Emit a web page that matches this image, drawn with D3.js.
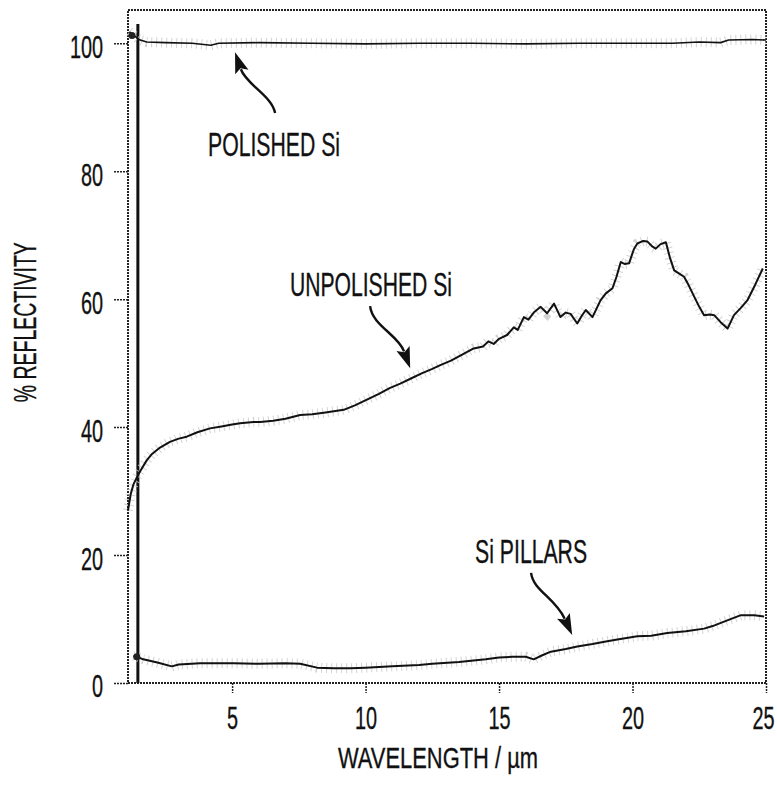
<!DOCTYPE html>
<html>
<head>
<meta charset="utf-8">
<script src="https://cdn.jsdelivr.net/npm/d3@7"></script>
<style>
  html, body { margin: 0; padding: 0; background: #fff; }
  svg { display: block; }
  text { font-family: "Liberation Sans Narrow", "Liberation Sans", Arial, sans-serif; fill: #111; stroke: #111; stroke-width: 0.35; }
</style>
</head>
<body>
<svg id="chart" width="777" height="789"></svg>
<script>
// wavelength (µm) / % reflectivity
const polishedWl = [1.15, 1.3, 1.5, 1.8, 2.5, 3.5, 4.2, 4.5, 6, 8, 10, 12, 14, 16, 18, 20, 21.5, 22.5, 23.3, 23.6, 24.5, 25];
const polishedR  = [101.8, 101.3, 100.6, 100.2, 100.1, 100.0, 99.7, 100.0, 100.1, 100.0, 99.9, 100.0, 100.0, 99.9, 100.0, 100.0, 100.0, 100.2, 100.1, 100.5, 100.6, 100.5];

const unpolishedWl = [1.1, 1.2, 1.3, 1.45, 1.6, 1.8, 2.0, 2.3, 2.67, 3.0, 3.3, 3.7, 4.17, 4.6, 5.0, 5.3, 5.8, 6.05, 6.54, 7.0,
  7.55, 8.0, 8.5, 9.18, 9.6, 10.05, 10.5, 10.9, 11.3, 11.7, 12.1, 12.5, 12.8, 13.2, 13.6, 14.05, 14.4, 14.6, 14.8, 15.0,
  15.3, 15.55, 15.7, 15.93, 16.1, 16.3, 16.56, 16.8, 17.06, 17.3, 17.5, 17.68, 17.93, 18.1, 18.25, 18.5, 18.8, 19.0, 19.25, 19.4,
  19.56, 19.7, 19.87, 20.05, 20.18, 20.4, 20.56, 20.75, 20.87, 21.05, 21.25, 21.4, 21.56, 21.75, 21.93, 22.1, 22.31, 22.5, 22.68, 22.9,
  23.06, 23.3, 23.56, 23.8, 24.05, 24.3, 24.6, 24.88];
const unpolishedR = [27.0, 29.5, 31.0, 32.3, 33.4, 34.8, 35.8, 36.8, 37.7, 38.2, 38.5, 39.2, 39.8, 40.1, 40.4, 40.6, 40.8, 40.8, 41.0, 41.3,
  41.9, 42.0, 42.3, 42.7, 43.4, 44.3, 45.2, 46.1, 46.8, 47.6, 48.4, 49.1, 49.7, 50.4, 51.3, 52.3, 52.6, 53.4, 53.0, 53.8,
  54.4, 55.6, 55.2, 57.2, 56.8, 57.9, 58.8, 57.8, 59.3, 57.2, 57.9, 57.7, 56.2, 57.4, 58.3, 57.2, 59.8, 60.9, 61.7, 63.5,
  65.8, 65.5, 65.6, 67.8, 68.7, 69.1, 69.0, 68.2, 67.9, 68.6, 68.9, 66.5, 64.5, 64.0, 63.5, 62.2, 60.4, 58.8, 57.5, 57.6,
  57.5, 56.4, 55.4, 57.5, 58.6, 59.8, 62.3, 64.8];

const pillarsWl = [1.3, 1.43, 1.67, 2.2, 2.74, 3.0, 3.8, 5.05, 6.0, 7.0, 7.55, 8.18, 8.8, 9.43, 10.0, 11.0, 12.0, 12.5, 13.5, 14.5,
  15.0, 15.5, 16.0, 16.3, 16.6, 16.94, 17.5, 17.93, 18.5, 19.0, 19.43, 20.18, 20.7, 21.3, 22.0, 22.68, 23.0, 23.43, 24.06, 24.56, 24.93];
const pillarsR = [4.2, 4.1, 3.7, 3.2, 2.6, 2.9, 3.1, 3.1, 3.0, 3.1, 3.0, 2.4, 2.3, 2.3, 2.4, 2.6, 2.8, 3.0, 3.3, 3.7,
  4.0, 4.1, 4.1, 3.7, 4.3, 4.9, 5.3, 5.7, 6.1, 6.5, 6.8, 7.3, 7.4, 7.8, 8.1, 8.5, 8.9, 9.6, 10.6, 10.6, 10.4];

const xTicks = [5, 10, 15, 20, 25];
const yTicks = [0, 20, 40, 60, 80, 100];
const markerWl = 1.47;   // solid vertical line near the left edge

// labels: [text, x, y] and arrows: tail, ctrl1, ctrl2, tip (data units)
const labels = [
  ["POLISHED Si", 6.57, 84.3],
  ["UNPOLISHED Si", 10.2, 62.4],
  ["Si PILLARS", 16.2, 20.6]
];
const arrows = [
  [[6.61, 89.1], [6.50, 91.75], [5.52, 93.6], [5.11, 98.6]],
  [[10.17, 58.9], [10.24, 55.95], [11.22, 54.4], [11.67, 49.2]],
  [[16.2, 17.2], [16.27, 14.5], [17.1, 13.3], [17.74, 7.5]]
];

const svg = d3.select("#chart");
const x = d3.scaleLinear().domain([1.1, 25]).range([128, 766]);
const y = d3.scaleLinear().domain([0, 105.2]).range([683, 10]);

const frameColor = "#222";
const squeeze = 0.64;   // the figure's numerals are a narrow face

// frame
svg.append("rect")
  .attr("x", x(1.1)).attr("y", y(105.2))
  .attr("width", x(25) - x(1.1)).attr("height", y(0) - y(105.2))
  .attr("fill", "none")
  .attr("stroke", frameColor)
  .attr("stroke-width", 2)
  .attr("stroke-dasharray", "2,1");

// axes
const yAxis = svg.append("g")
  .attr("transform", `translate(${x(1.1)},0)`)
  .call(d3.axisLeft(y).tickValues(yTicks).tickSize(14).tickSizeOuter(0).tickFormat(d3.format("d")));
const xAxis = svg.append("g")
  .attr("transform", `translate(0,${y(0)})`)
  .call(d3.axisBottom(x).tickValues(xTicks).tickSize(10).tickSizeOuter(0).tickFormat(d3.format("d")));

[xAxis, yAxis].forEach(g => {
  g.select(".domain").remove();
  g.selectAll(".tick line")
    .attr("stroke", frameColor)
    .attr("stroke-width", 1.5)
    .attr("stroke-dasharray", "2,1");
  g.selectAll(".tick text")
    .attr("fill", "#111")
    .attr("font-size", 31)
    .attr("font-family", "Liberation Sans Narrow, Liberation Sans, Arial, sans-serif")
    .attr("transform", `scale(${squeeze},1)`);
});
yAxis.selectAll(".tick text").attr("x", -25 / squeeze).attr("dy", "0.45em");
xAxis.selectAll(".tick text").attr("y", 24).attr("dy", "0.71em")
  .attr("x", d => d === 25 ? -3 / squeeze : 0);

// thick vertical marker line
svg.append("line")
  .attr("x1", x(markerWl)).attr("x2", x(markerWl))
  .attr("y1", y(0)).attr("y2", y(103))
  .attr("stroke", "#111")
  .attr("stroke-width", 3);

const line = d3.line().x(d => x(d[0])).y(d => y(d[1]));
const series = [
  d3.zip(polishedWl, polishedR),
  d3.zip(unpolishedWl, unpolishedR),
  d3.zip(pillarsWl, pillarsR)
];

// faint stipple halo from the scan
svg.append("g").selectAll("path")
  .data(series)
  .join("path")
  .attr("d", line)
  .attr("fill", "none")
  .attr("stroke", "#c8c8c8")
  .attr("stroke-width", 10)
  .attr("stroke-dasharray", "1,4")
  .attr("opacity", 0.8);

svg.append("g").selectAll("path")
  .data(series)
  .join("path")
  .attr("d", line)
  .attr("fill", "none")
  .attr("stroke", "#111")
  .attr("stroke-width", (d, i) => i === 0 ? 1.6 : 2)
  .attr("stroke-linejoin", "round");

// start dots
svg.append("g").selectAll("circle")
  .data([[1.25, 101.2], [1.43, 4.1]])
  .join("circle")
  .attr("cx", d => x(d[0])).attr("cy", d => y(d[1]))
  .attr("r", 3.5)
  .attr("fill", "#222");

// annotation labels
svg.append("g").selectAll("text")
  .data(labels)
  .join("text")
  .attr("x", d => x(d[1])).attr("y", d => y(d[2]))
  .attr("text-anchor", "middle")
  .attr("dy", "0.36em")
  .attr("font-size", 33)
  .attr("lengthAdjust", "spacingAndGlyphs")
  .attr("textLength", d => ({"POLISHED Si": 132, "UNPOLISHED Si": 162, "Si PILLARS": 112})[d[0]])
  .text(d => d[0]);

// arrows: curved tail + filled head
const ag = svg.append("g");
arrows.forEach(a => {
  const p = a.map(d => [x(d[0]), y(d[1])]);
  const tip = p[3];
  const dx = tip[0] - p[2][0], dy = tip[1] - p[2][1];
  const len = Math.hypot(dx, dy);
  const ux = dx / len, uy = dy / len;
  const headLen = 21, headW = 7;
  const base = [tip[0] - ux * headLen, tip[1] - uy * headLen];
  const c2 = [p[2][0], p[2][1]];
  ag.append("path")
    .attr("d", `M${p[0]}C${p[1]} ${c2} ${base[0] + ux * 3},${base[1] + uy * 3}`)
    .attr("fill", "none")
    .attr("stroke", "#111")
    .attr("stroke-width", 2.4);
  ag.append("path")
    .attr("d", `M${tip}L${base[0] - uy * headW},${base[1] + ux * headW}L${base[0] + ux * 4},${base[1] + uy * 4}L${base[0] + uy * headW},${base[1] - ux * headW}Z`)
    .attr("fill", "#111");
});

// axis titles
svg.append("text")
  .attr("x", 438).attr("y", 768)
  .attr("text-anchor", "middle")
  .attr("font-size", 30)
  .attr("lengthAdjust", "spacingAndGlyphs")
  .attr("textLength", 200)
  .text("WAVELENGTH / µm");

svg.append("text")
  .attr("transform", `translate(36,${y(56.4)}) rotate(-90)`)
  .attr("text-anchor", "middle")
  .attr("font-size", 32)
  .attr("lengthAdjust", "spacingAndGlyphs")
  .attr("textLength", 160)
  .text("% REFLECTIVITY");
</script>
</body>
</html>
